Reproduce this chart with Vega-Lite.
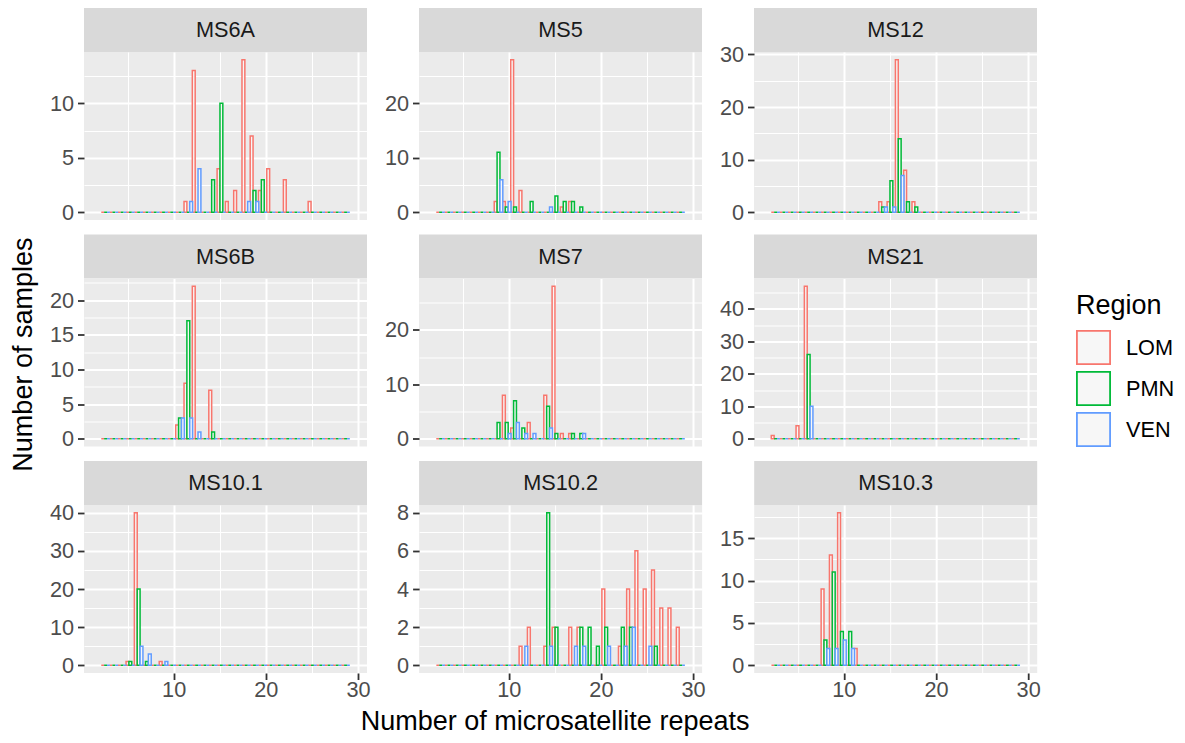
{
"$schema":"https://vega.github.io/schema/vega-lite/v6.json",
"background":"white",
"padding":{"left":9,"top":8,"right":5,"bottom":5},
"config":{"font":"Liberation Sans","view":{"stroke":null},
 "axis":{"domain":false,"gridColor":"#FFFFFF","labelFont":"Liberation Sans","labelFontSize":21.7,"labelColor":"#4D4D4D","tickColor":"#333333","tickSize":6.5,"tickWidth":1.8,"labelPadding":4},
 "axisX":{"minExtent":0,"labelPadding":0},
 "axisY":{"minExtent":40},
 "legend":{"orient":"none","legendX":992,"legendY":285,"titleFont":"Liberation Sans","titleFontSize":27,"titleFontWeight":"normal","titleColor":"black","labelFont":"Liberation Sans","labelFontSize":21.7,"labelColor":"black","symbolType":"square","symbolSize":1100,"symbolStrokeWidth":1.8,"symbolFillColor":"#F7F7F7","rowPadding":0,"titlePadding":10,"labelOffset":15}},
"datasets":{
"MS6A":[{"x":2.61,"LOM":0,"PMN":0,"VEN":0},{"x":3.51,"LOM":0,"PMN":0,"VEN":0},{"x":4.41,"LOM":0,"PMN":0,"VEN":0},{"x":5.3,"LOM":0,"PMN":0,"VEN":0},{"x":6.2,"LOM":0,"PMN":0,"VEN":0},{"x":7.1,"LOM":0,"PMN":0,"VEN":0},{"x":8,"LOM":0,"PMN":0,"VEN":0},{"x":8.9,"LOM":0,"PMN":0,"VEN":0},{"x":9.79,"LOM":0,"PMN":0,"VEN":0},{"x":10.69,"LOM":0,"PMN":0,"VEN":0},{"x":11.59,"LOM":1,"PMN":0,"VEN":1},{"x":12.49,"LOM":13,"PMN":0,"VEN":4},{"x":13.39,"LOM":0,"PMN":0,"VEN":0},{"x":14.28,"LOM":0,"PMN":3,"VEN":0},{"x":15.18,"LOM":4,"PMN":10,"VEN":0},{"x":16.08,"LOM":1,"PMN":0,"VEN":0},{"x":16.98,"LOM":2,"PMN":0,"VEN":0},{"x":17.88,"LOM":14,"PMN":0,"VEN":1},{"x":18.77,"LOM":7,"PMN":2,"VEN":1},{"x":19.67,"LOM":2,"PMN":3,"VEN":0},{"x":20.57,"LOM":4,"PMN":0,"VEN":0},{"x":21.47,"LOM":0,"PMN":0,"VEN":0},{"x":22.37,"LOM":3,"PMN":0,"VEN":0},{"x":23.26,"LOM":0,"PMN":0,"VEN":0},{"x":24.16,"LOM":0,"PMN":0,"VEN":0},{"x":25.06,"LOM":1,"PMN":0,"VEN":0},{"x":25.96,"LOM":0,"PMN":0,"VEN":0},{"x":26.86,"LOM":0,"PMN":0,"VEN":0},{"x":27.75,"LOM":0,"PMN":0,"VEN":0},{"x":28.65,"LOM":0,"PMN":0,"VEN":0}],
"MS5":[{"x":2.61,"LOM":0,"PMN":0,"VEN":0},{"x":3.51,"LOM":0,"PMN":0,"VEN":0},{"x":4.41,"LOM":0,"PMN":0,"VEN":0},{"x":5.3,"LOM":0,"PMN":0,"VEN":0},{"x":6.2,"LOM":0,"PMN":0,"VEN":0},{"x":7.1,"LOM":0,"PMN":0,"VEN":0},{"x":8,"LOM":0,"PMN":0,"VEN":0},{"x":8.9,"LOM":2,"PMN":11,"VEN":6},{"x":9.79,"LOM":2,"PMN":1,"VEN":2},{"x":10.69,"LOM":28,"PMN":1,"VEN":0},{"x":11.59,"LOM":4,"PMN":0,"VEN":0},{"x":12.49,"LOM":0,"PMN":2,"VEN":0},{"x":13.39,"LOM":0,"PMN":0,"VEN":0},{"x":14.28,"LOM":0,"PMN":0,"VEN":1},{"x":15.18,"LOM":0,"PMN":3,"VEN":0},{"x":16.08,"LOM":1,"PMN":2,"VEN":0},{"x":16.98,"LOM":2,"PMN":2,"VEN":0},{"x":17.88,"LOM":0,"PMN":1,"VEN":0},{"x":18.77,"LOM":0,"PMN":0,"VEN":0},{"x":19.67,"LOM":0,"PMN":0,"VEN":0},{"x":20.57,"LOM":0,"PMN":0,"VEN":0},{"x":21.47,"LOM":0,"PMN":0,"VEN":0},{"x":22.37,"LOM":0,"PMN":0,"VEN":0},{"x":23.26,"LOM":0,"PMN":0,"VEN":0},{"x":24.16,"LOM":0,"PMN":0,"VEN":0},{"x":25.06,"LOM":0,"PMN":0,"VEN":0},{"x":25.96,"LOM":0,"PMN":0,"VEN":0},{"x":26.86,"LOM":0,"PMN":0,"VEN":0},{"x":27.75,"LOM":0,"PMN":0,"VEN":0},{"x":28.65,"LOM":0,"PMN":0,"VEN":0}],
"MS12":[{"x":2.61,"LOM":0,"PMN":0,"VEN":0},{"x":3.51,"LOM":0,"PMN":0,"VEN":0},{"x":4.41,"LOM":0,"PMN":0,"VEN":0},{"x":5.3,"LOM":0,"PMN":0,"VEN":0},{"x":6.2,"LOM":0,"PMN":0,"VEN":0},{"x":7.1,"LOM":0,"PMN":0,"VEN":0},{"x":8,"LOM":0,"PMN":0,"VEN":0},{"x":8.9,"LOM":0,"PMN":0,"VEN":0},{"x":9.79,"LOM":0,"PMN":0,"VEN":0},{"x":10.69,"LOM":0,"PMN":0,"VEN":0},{"x":11.59,"LOM":0,"PMN":0,"VEN":0},{"x":12.49,"LOM":0,"PMN":0,"VEN":0},{"x":13.39,"LOM":0,"PMN":0,"VEN":0},{"x":14.28,"LOM":2,"PMN":1,"VEN":1},{"x":15.18,"LOM":2,"PMN":6,"VEN":1},{"x":16.08,"LOM":29,"PMN":14,"VEN":7},{"x":16.98,"LOM":8,"PMN":2,"VEN":0},{"x":17.88,"LOM":2,"PMN":1,"VEN":0},{"x":18.77,"LOM":0,"PMN":0,"VEN":0},{"x":19.67,"LOM":0,"PMN":0,"VEN":0},{"x":20.57,"LOM":0,"PMN":0,"VEN":0},{"x":21.47,"LOM":0,"PMN":0,"VEN":0},{"x":22.37,"LOM":0,"PMN":0,"VEN":0},{"x":23.26,"LOM":0,"PMN":0,"VEN":0},{"x":24.16,"LOM":0,"PMN":0,"VEN":0},{"x":25.06,"LOM":0,"PMN":0,"VEN":0},{"x":25.96,"LOM":0,"PMN":0,"VEN":0},{"x":26.86,"LOM":0,"PMN":0,"VEN":0},{"x":27.75,"LOM":0,"PMN":0,"VEN":0},{"x":28.65,"LOM":0,"PMN":0,"VEN":0}],
"MS6B":[{"x":2.61,"LOM":0,"PMN":0,"VEN":0},{"x":3.51,"LOM":0,"PMN":0,"VEN":0},{"x":4.41,"LOM":0,"PMN":0,"VEN":0},{"x":5.3,"LOM":0,"PMN":0,"VEN":0},{"x":6.2,"LOM":0,"PMN":0,"VEN":0},{"x":7.1,"LOM":0,"PMN":0,"VEN":0},{"x":8,"LOM":0,"PMN":0,"VEN":0},{"x":8.9,"LOM":0,"PMN":0,"VEN":0},{"x":9.79,"LOM":0,"PMN":0,"VEN":0},{"x":10.69,"LOM":2,"PMN":3,"VEN":3},{"x":11.59,"LOM":8,"PMN":17,"VEN":3},{"x":12.49,"LOM":22,"PMN":0,"VEN":1},{"x":13.39,"LOM":0,"PMN":0,"VEN":0},{"x":14.28,"LOM":7,"PMN":1,"VEN":0},{"x":15.18,"LOM":0,"PMN":0,"VEN":0},{"x":16.08,"LOM":0,"PMN":0,"VEN":0},{"x":16.98,"LOM":0,"PMN":0,"VEN":0},{"x":17.88,"LOM":0,"PMN":0,"VEN":0},{"x":18.77,"LOM":0,"PMN":0,"VEN":0},{"x":19.67,"LOM":0,"PMN":0,"VEN":0},{"x":20.57,"LOM":0,"PMN":0,"VEN":0},{"x":21.47,"LOM":0,"PMN":0,"VEN":0},{"x":22.37,"LOM":0,"PMN":0,"VEN":0},{"x":23.26,"LOM":0,"PMN":0,"VEN":0},{"x":24.16,"LOM":0,"PMN":0,"VEN":0},{"x":25.06,"LOM":0,"PMN":0,"VEN":0},{"x":25.96,"LOM":0,"PMN":0,"VEN":0},{"x":26.86,"LOM":0,"PMN":0,"VEN":0},{"x":27.75,"LOM":0,"PMN":0,"VEN":0},{"x":28.65,"LOM":0,"PMN":0,"VEN":0}],
"MS7":[{"x":2.61,"LOM":0,"PMN":0,"VEN":0},{"x":3.51,"LOM":0,"PMN":0,"VEN":0},{"x":4.41,"LOM":0,"PMN":0,"VEN":0},{"x":5.3,"LOM":0,"PMN":0,"VEN":0},{"x":6.2,"LOM":0,"PMN":0,"VEN":0},{"x":7.1,"LOM":0,"PMN":0,"VEN":0},{"x":8,"LOM":0,"PMN":0,"VEN":0},{"x":8.9,"LOM":0,"PMN":3,"VEN":0},{"x":9.79,"LOM":8,"PMN":3,"VEN":1},{"x":10.69,"LOM":2,"PMN":7,"VEN":3},{"x":11.59,"LOM":0,"PMN":2,"VEN":1},{"x":12.49,"LOM":3,"PMN":0,"VEN":1},{"x":13.39,"LOM":0,"PMN":0,"VEN":0},{"x":14.28,"LOM":8,"PMN":6,"VEN":2},{"x":15.18,"LOM":28,"PMN":1,"VEN":0},{"x":16.08,"LOM":1,"PMN":0,"VEN":0},{"x":16.98,"LOM":1,"PMN":1,"VEN":0},{"x":17.88,"LOM":0,"PMN":1,"VEN":1},{"x":18.77,"LOM":0,"PMN":0,"VEN":0},{"x":19.67,"LOM":0,"PMN":0,"VEN":0},{"x":20.57,"LOM":0,"PMN":0,"VEN":0},{"x":21.47,"LOM":0,"PMN":0,"VEN":0},{"x":22.37,"LOM":0,"PMN":0,"VEN":0},{"x":23.26,"LOM":0,"PMN":0,"VEN":0},{"x":24.16,"LOM":0,"PMN":0,"VEN":0},{"x":25.06,"LOM":0,"PMN":0,"VEN":0},{"x":25.96,"LOM":0,"PMN":0,"VEN":0},{"x":26.86,"LOM":0,"PMN":0,"VEN":0},{"x":27.75,"LOM":0,"PMN":0,"VEN":0},{"x":28.65,"LOM":0,"PMN":0,"VEN":0}],
"MS21":[{"x":2.61,"LOM":1,"PMN":0,"VEN":0},{"x":3.51,"LOM":0,"PMN":0,"VEN":0},{"x":4.41,"LOM":0,"PMN":0,"VEN":0},{"x":5.3,"LOM":4,"PMN":0,"VEN":0},{"x":6.2,"LOM":47,"PMN":26,"VEN":10},{"x":7.1,"LOM":0,"PMN":0,"VEN":0},{"x":8,"LOM":0,"PMN":0,"VEN":0},{"x":8.9,"LOM":0,"PMN":0,"VEN":0},{"x":9.79,"LOM":0,"PMN":0,"VEN":0},{"x":10.69,"LOM":0,"PMN":0,"VEN":0},{"x":11.59,"LOM":0,"PMN":0,"VEN":0},{"x":12.49,"LOM":0,"PMN":0,"VEN":0},{"x":13.39,"LOM":0,"PMN":0,"VEN":0},{"x":14.28,"LOM":0,"PMN":0,"VEN":0},{"x":15.18,"LOM":0,"PMN":0,"VEN":0},{"x":16.08,"LOM":0,"PMN":0,"VEN":0},{"x":16.98,"LOM":0,"PMN":0,"VEN":0},{"x":17.88,"LOM":0,"PMN":0,"VEN":0},{"x":18.77,"LOM":0,"PMN":0,"VEN":0},{"x":19.67,"LOM":0,"PMN":0,"VEN":0},{"x":20.57,"LOM":0,"PMN":0,"VEN":0},{"x":21.47,"LOM":0,"PMN":0,"VEN":0},{"x":22.37,"LOM":0,"PMN":0,"VEN":0},{"x":23.26,"LOM":0,"PMN":0,"VEN":0},{"x":24.16,"LOM":0,"PMN":0,"VEN":0},{"x":25.06,"LOM":0,"PMN":0,"VEN":0},{"x":25.96,"LOM":0,"PMN":0,"VEN":0},{"x":26.86,"LOM":0,"PMN":0,"VEN":0},{"x":27.75,"LOM":0,"PMN":0,"VEN":0},{"x":28.65,"LOM":0,"PMN":0,"VEN":0}],
"MS10_1":[{"x":2.61,"LOM":0,"PMN":0,"VEN":0},{"x":3.51,"LOM":0,"PMN":0,"VEN":0},{"x":4.41,"LOM":0,"PMN":0,"VEN":0},{"x":5.3,"LOM":1,"PMN":1,"VEN":0},{"x":6.2,"LOM":40,"PMN":20,"VEN":5},{"x":7.1,"LOM":0,"PMN":1,"VEN":3},{"x":8,"LOM":0,"PMN":0,"VEN":0},{"x":8.9,"LOM":1,"PMN":0,"VEN":1},{"x":9.79,"LOM":0,"PMN":0,"VEN":0},{"x":10.69,"LOM":0,"PMN":0,"VEN":0},{"x":11.59,"LOM":0,"PMN":0,"VEN":0},{"x":12.49,"LOM":0,"PMN":0,"VEN":0},{"x":13.39,"LOM":0,"PMN":0,"VEN":0},{"x":14.28,"LOM":0,"PMN":0,"VEN":0},{"x":15.18,"LOM":0,"PMN":0,"VEN":0},{"x":16.08,"LOM":0,"PMN":0,"VEN":0},{"x":16.98,"LOM":0,"PMN":0,"VEN":0},{"x":17.88,"LOM":0,"PMN":0,"VEN":0},{"x":18.77,"LOM":0,"PMN":0,"VEN":0},{"x":19.67,"LOM":0,"PMN":0,"VEN":0},{"x":20.57,"LOM":0,"PMN":0,"VEN":0},{"x":21.47,"LOM":0,"PMN":0,"VEN":0},{"x":22.37,"LOM":0,"PMN":0,"VEN":0},{"x":23.26,"LOM":0,"PMN":0,"VEN":0},{"x":24.16,"LOM":0,"PMN":0,"VEN":0},{"x":25.06,"LOM":0,"PMN":0,"VEN":0},{"x":25.96,"LOM":0,"PMN":0,"VEN":0},{"x":26.86,"LOM":0,"PMN":0,"VEN":0},{"x":27.75,"LOM":0,"PMN":0,"VEN":0},{"x":28.65,"LOM":0,"PMN":0,"VEN":0}],
"MS10_2":[{"x":2.61,"LOM":0,"PMN":0,"VEN":0},{"x":3.51,"LOM":0,"PMN":0,"VEN":0},{"x":4.41,"LOM":0,"PMN":0,"VEN":0},{"x":5.3,"LOM":0,"PMN":0,"VEN":0},{"x":6.2,"LOM":0,"PMN":0,"VEN":0},{"x":7.1,"LOM":0,"PMN":0,"VEN":0},{"x":8,"LOM":0,"PMN":0,"VEN":0},{"x":8.9,"LOM":0,"PMN":0,"VEN":0},{"x":9.79,"LOM":0,"PMN":0,"VEN":0},{"x":10.69,"LOM":0,"PMN":0,"VEN":0},{"x":11.59,"LOM":1,"PMN":0,"VEN":1},{"x":12.49,"LOM":2,"PMN":0,"VEN":0},{"x":13.39,"LOM":0,"PMN":0,"VEN":0},{"x":14.28,"LOM":1,"PMN":8,"VEN":1},{"x":15.18,"LOM":2,"PMN":2,"VEN":0},{"x":16.08,"LOM":0,"PMN":0,"VEN":0},{"x":16.98,"LOM":2,"PMN":0,"VEN":1},{"x":17.88,"LOM":2,"PMN":2,"VEN":1},{"x":18.77,"LOM":0,"PMN":2,"VEN":0},{"x":19.67,"LOM":0,"PMN":1,"VEN":0},{"x":20.57,"LOM":4,"PMN":2,"VEN":1},{"x":21.47,"LOM":0,"PMN":0,"VEN":0},{"x":22.37,"LOM":1,"PMN":2,"VEN":1},{"x":23.26,"LOM":4,"PMN":2,"VEN":2},{"x":24.16,"LOM":6,"PMN":0,"VEN":0},{"x":25.06,"LOM":4,"PMN":0,"VEN":1},{"x":25.96,"LOM":5,"PMN":1,"VEN":0},{"x":26.86,"LOM":3,"PMN":0,"VEN":0},{"x":27.75,"LOM":3,"PMN":0,"VEN":0},{"x":28.65,"LOM":2,"PMN":0,"VEN":0}],
"MS10_3":[{"x":2.61,"LOM":0,"PMN":0,"VEN":0},{"x":3.51,"LOM":0,"PMN":0,"VEN":0},{"x":4.41,"LOM":0,"PMN":0,"VEN":0},{"x":5.3,"LOM":0,"PMN":0,"VEN":0},{"x":6.2,"LOM":0,"PMN":0,"VEN":0},{"x":7.1,"LOM":0,"PMN":0,"VEN":0},{"x":8,"LOM":9,"PMN":3,"VEN":2},{"x":8.9,"LOM":13,"PMN":11,"VEN":2},{"x":9.79,"LOM":18,"PMN":4,"VEN":3},{"x":10.69,"LOM":0,"PMN":4,"VEN":2},{"x":11.59,"LOM":2,"PMN":0,"VEN":0},{"x":12.49,"LOM":0,"PMN":0,"VEN":0},{"x":13.39,"LOM":0,"PMN":0,"VEN":0},{"x":14.28,"LOM":0,"PMN":0,"VEN":0},{"x":15.18,"LOM":0,"PMN":0,"VEN":0},{"x":16.08,"LOM":0,"PMN":0,"VEN":0},{"x":16.98,"LOM":0,"PMN":0,"VEN":0},{"x":17.88,"LOM":0,"PMN":0,"VEN":0},{"x":18.77,"LOM":0,"PMN":0,"VEN":0},{"x":19.67,"LOM":0,"PMN":0,"VEN":0},{"x":20.57,"LOM":0,"PMN":0,"VEN":0},{"x":21.47,"LOM":0,"PMN":0,"VEN":0},{"x":22.37,"LOM":0,"PMN":0,"VEN":0},{"x":23.26,"LOM":0,"PMN":0,"VEN":0},{"x":24.16,"LOM":0,"PMN":0,"VEN":0},{"x":25.06,"LOM":0,"PMN":0,"VEN":0},{"x":25.96,"LOM":0,"PMN":0,"VEN":0},{"x":26.86,"LOM":0,"PMN":0,"VEN":0},{"x":27.75,"LOM":0,"PMN":0,"VEN":0},{"x":28.65,"LOM":0,"PMN":0,"VEN":0}]
},
"vconcat":[{
"title":{"text":"Number of microsatellite repeats","orient":"bottom","anchor":"middle","frame":"bounds","dx":30,"fontSize":27,"fontWeight":"normal","color":"black","font":"Liberation Sans","offset":8},
"vconcat":[{
"title":{"text":"Number of samples","orient":"left","anchor":"middle","fontSize":27,"fontWeight":"normal","color":"black","font":"Liberation Sans","offset":6},
"spacing":9.5,
"vconcat":[
{"hconcat":[
{"bounds":"flush","spacing":0,"vconcat":[
 {"width":283,"height":44,"view":{"fill":"#D9D9D9","stroke":null},"data":{"values":[{}]},"mark":{"type":"text","fontSize":21.7,"color":"#1A1A1A"},"encoding":{"text":{"value":"MS6A"}}},
 {"width":283,"height":168,"view":{"fill":"#EBEBEB","stroke":null},"data":{"name":"MS6A"},"transform":[{"fold":["LOM","PMN","VEN"],"as":["Region","count"]}],"resolve":{"axis":{"x":"independent","y":"independent"}},
 "layer":[
  {"transform":[{"filter":"datum.Region==='LOM'"}],"mark":{"type":"bar","width":2.86,"xOffset":-2.86,"fill":"#F7F7F7","strokeWidth":1.5},"encoding":{"x":{"field":"x","type":"quantitative","scale":{"domain":[0.8135,30.4365],"nice":false,"zero":false},"axis":{"values":[10,20,30],"grid":true,"gridWidth":2,"labels":false,"ticks":false,"title":null}},"y":{"field":"count","type":"quantitative","scale":{"domain":[-0.7,14.7],"nice":false,"zero":false},"axis":{"values":[0,5,10],"grid":true,"gridWidth":2,"title":null}},"y2":{"datum":0},"stroke":{"field":"Region","type":"nominal","scale":{"domain":["LOM","PMN","VEN"],"range":["#F8766D","#00BA38","#619CFF"]}}}},
  {"transform":[{"filter":"datum.Region==='PMN'"}],"mark":{"type":"bar","width":2.86,"fill":"#F7F7F7","strokeWidth":1.5},"encoding":{"x":{"field":"x","type":"quantitative","axis":{"values":[5,15,25],"grid":true,"gridWidth":1,"labels":false,"ticks":false,"title":null}},"y":{"field":"count","type":"quantitative","axis":{"values":[2.5,7.5,12.5],"grid":true,"gridWidth":1,"labels":false,"ticks":false,"title":null,"minExtent":0}},"y2":{"datum":0},"stroke":{"field":"Region","type":"nominal"}}},
  {"transform":[{"filter":"datum.Region==='VEN'"}],"mark":{"type":"bar","width":2.86,"xOffset":2.86,"fill":"#F7F7F7","strokeWidth":1.5},"encoding":{"x":{"field":"x","type":"quantitative","axis":null},"y":{"field":"count","type":"quantitative","axis":null},"y2":{"datum":0},"stroke":{"field":"Region","type":"nominal"}}}
 ]}
]},
{"bounds":"flush","spacing":0,"vconcat":[
 {"width":283,"height":44,"view":{"fill":"#D9D9D9","stroke":null},"data":{"values":[{}]},"mark":{"type":"text","fontSize":21.7,"color":"#1A1A1A"},"encoding":{"text":{"value":"MS5"}}},
 {"width":283,"height":168,"view":{"fill":"#EBEBEB","stroke":null},"data":{"name":"MS5"},"transform":[{"fold":["LOM","PMN","VEN"],"as":["Region","count"]}],"resolve":{"axis":{"x":"independent","y":"independent"}},
 "layer":[
  {"transform":[{"filter":"datum.Region==='LOM'"}],"mark":{"type":"bar","width":2.86,"xOffset":-2.86,"fill":"#F7F7F7","strokeWidth":1.5},"encoding":{"x":{"field":"x","type":"quantitative","scale":{"domain":[0.8135,30.4365],"nice":false,"zero":false},"axis":{"values":[10,20,30],"grid":true,"gridWidth":2,"labels":false,"ticks":false,"title":null}},"y":{"field":"count","type":"quantitative","scale":{"domain":[-1.4,29.4],"nice":false,"zero":false},"axis":{"values":[0,10,20],"grid":true,"gridWidth":2,"title":null}},"y2":{"datum":0},"stroke":{"field":"Region","type":"nominal"}}},
  {"transform":[{"filter":"datum.Region==='PMN'"}],"mark":{"type":"bar","width":2.86,"fill":"#F7F7F7","strokeWidth":1.5},"encoding":{"x":{"field":"x","type":"quantitative","axis":{"values":[5,15,25],"grid":true,"gridWidth":1,"labels":false,"ticks":false,"title":null}},"y":{"field":"count","type":"quantitative","axis":{"values":[5,15,25],"grid":true,"gridWidth":1,"labels":false,"ticks":false,"title":null,"minExtent":0}},"y2":{"datum":0},"stroke":{"field":"Region","type":"nominal"}}},
  {"transform":[{"filter":"datum.Region==='VEN'"}],"mark":{"type":"bar","width":2.86,"xOffset":2.86,"fill":"#F7F7F7","strokeWidth":1.5},"encoding":{"x":{"field":"x","type":"quantitative","axis":null},"y":{"field":"count","type":"quantitative","axis":null},"y2":{"datum":0},"stroke":{"field":"Region","type":"nominal"}}}
 ]}
]},
{"bounds":"flush","spacing":0,"vconcat":[
 {"width":283,"height":44,"view":{"fill":"#D9D9D9","stroke":null},"data":{"values":[{}]},"mark":{"type":"text","fontSize":21.7,"color":"#1A1A1A"},"encoding":{"text":{"value":"MS12"}}},
 {"width":283,"height":168,"view":{"fill":"#EBEBEB","stroke":null},"data":{"name":"MS12"},"transform":[{"fold":["LOM","PMN","VEN"],"as":["Region","count"]}],"resolve":{"axis":{"x":"independent","y":"independent"}},
 "layer":[
  {"transform":[{"filter":"datum.Region==='LOM'"}],"mark":{"type":"bar","width":2.86,"xOffset":-2.86,"fill":"#F7F7F7","strokeWidth":1.5},"encoding":{"x":{"field":"x","type":"quantitative","scale":{"domain":[0.8135,30.4365],"nice":false,"zero":false},"axis":{"values":[10,20,30],"grid":true,"gridWidth":2,"labels":false,"ticks":false,"title":null}},"y":{"field":"count","type":"quantitative","scale":{"domain":[-1.45,30.45],"nice":false,"zero":false},"axis":{"values":[0,10,20,30],"grid":true,"gridWidth":2,"title":null}},"y2":{"datum":0},"stroke":{"field":"Region","type":"nominal"}}},
  {"transform":[{"filter":"datum.Region==='PMN'"}],"mark":{"type":"bar","width":2.86,"fill":"#F7F7F7","strokeWidth":1.5},"encoding":{"x":{"field":"x","type":"quantitative","axis":{"values":[5,15,25],"grid":true,"gridWidth":1,"labels":false,"ticks":false,"title":null}},"y":{"field":"count","type":"quantitative","axis":{"values":[5,15,25],"grid":true,"gridWidth":1,"labels":false,"ticks":false,"title":null,"minExtent":0}},"y2":{"datum":0},"stroke":{"field":"Region","type":"nominal"}}},
  {"transform":[{"filter":"datum.Region==='VEN'"}],"mark":{"type":"bar","width":2.86,"xOffset":2.86,"fill":"#F7F7F7","strokeWidth":1.5},"encoding":{"x":{"field":"x","type":"quantitative","axis":null},"y":{"field":"count","type":"quantitative","axis":null},"y2":{"datum":0},"stroke":{"field":"Region","type":"nominal"}}}
 ]}
]}
],"spacing":12},
{"hconcat":[
{"bounds":"flush","spacing":0,"vconcat":[
 {"width":283,"height":44,"view":{"fill":"#D9D9D9","stroke":null},"data":{"values":[{}]},"mark":{"type":"text","fontSize":21.7,"color":"#1A1A1A"},"encoding":{"text":{"value":"MS6B"}}},
 {"width":283,"height":168,"view":{"fill":"#EBEBEB","stroke":null},"data":{"name":"MS6B"},"transform":[{"fold":["LOM","PMN","VEN"],"as":["Region","count"]}],"resolve":{"axis":{"x":"independent","y":"independent"}},
 "layer":[
  {"transform":[{"filter":"datum.Region==='LOM'"}],"mark":{"type":"bar","width":2.86,"xOffset":-2.86,"fill":"#F7F7F7","strokeWidth":1.5},"encoding":{"x":{"field":"x","type":"quantitative","scale":{"domain":[0.8135,30.4365],"nice":false,"zero":false},"axis":{"values":[10,20,30],"grid":true,"gridWidth":2,"labels":false,"ticks":false,"title":null}},"y":{"field":"count","type":"quantitative","scale":{"domain":[-1.1,23.1],"nice":false,"zero":false},"axis":{"values":[0,5,10,15,20],"grid":true,"gridWidth":2,"title":null}},"y2":{"datum":0},"stroke":{"field":"Region","type":"nominal"}}},
  {"transform":[{"filter":"datum.Region==='PMN'"}],"mark":{"type":"bar","width":2.86,"fill":"#F7F7F7","strokeWidth":1.5},"encoding":{"x":{"field":"x","type":"quantitative","axis":{"values":[5,15,25],"grid":true,"gridWidth":1,"labels":false,"ticks":false,"title":null}},"y":{"field":"count","type":"quantitative","axis":{"values":[2.5,7.5,12.5,17.5,22.5],"grid":true,"gridWidth":1,"labels":false,"ticks":false,"title":null,"minExtent":0}},"y2":{"datum":0},"stroke":{"field":"Region","type":"nominal"}}},
  {"transform":[{"filter":"datum.Region==='VEN'"}],"mark":{"type":"bar","width":2.86,"xOffset":2.86,"fill":"#F7F7F7","strokeWidth":1.5},"encoding":{"x":{"field":"x","type":"quantitative","axis":null},"y":{"field":"count","type":"quantitative","axis":null},"y2":{"datum":0},"stroke":{"field":"Region","type":"nominal"}}}
 ]}
]},
{"bounds":"flush","spacing":0,"vconcat":[
 {"width":283,"height":44,"view":{"fill":"#D9D9D9","stroke":null},"data":{"values":[{}]},"mark":{"type":"text","fontSize":21.7,"color":"#1A1A1A"},"encoding":{"text":{"value":"MS7"}}},
 {"width":283,"height":168,"view":{"fill":"#EBEBEB","stroke":null},"data":{"name":"MS7"},"transform":[{"fold":["LOM","PMN","VEN"],"as":["Region","count"]}],"resolve":{"axis":{"x":"independent","y":"independent"}},
 "layer":[
  {"transform":[{"filter":"datum.Region==='LOM'"}],"mark":{"type":"bar","width":2.86,"xOffset":-2.86,"fill":"#F7F7F7","strokeWidth":1.5},"encoding":{"x":{"field":"x","type":"quantitative","scale":{"domain":[0.8135,30.4365],"nice":false,"zero":false},"axis":{"values":[10,20,30],"grid":true,"gridWidth":2,"labels":false,"ticks":false,"title":null}},"y":{"field":"count","type":"quantitative","scale":{"domain":[-1.4,29.4],"nice":false,"zero":false},"axis":{"values":[0,10,20],"grid":true,"gridWidth":2,"title":null}},"y2":{"datum":0},"stroke":{"field":"Region","type":"nominal"}}},
  {"transform":[{"filter":"datum.Region==='PMN'"}],"mark":{"type":"bar","width":2.86,"fill":"#F7F7F7","strokeWidth":1.5},"encoding":{"x":{"field":"x","type":"quantitative","axis":{"values":[5,15,25],"grid":true,"gridWidth":1,"labels":false,"ticks":false,"title":null}},"y":{"field":"count","type":"quantitative","axis":{"values":[5,15,25],"grid":true,"gridWidth":1,"labels":false,"ticks":false,"title":null,"minExtent":0}},"y2":{"datum":0},"stroke":{"field":"Region","type":"nominal"}}},
  {"transform":[{"filter":"datum.Region==='VEN'"}],"mark":{"type":"bar","width":2.86,"xOffset":2.86,"fill":"#F7F7F7","strokeWidth":1.5},"encoding":{"x":{"field":"x","type":"quantitative","axis":null},"y":{"field":"count","type":"quantitative","axis":null},"y2":{"datum":0},"stroke":{"field":"Region","type":"nominal"}}}
 ]}
]},
{"bounds":"flush","spacing":0,"vconcat":[
 {"width":283,"height":44,"view":{"fill":"#D9D9D9","stroke":null},"data":{"values":[{}]},"mark":{"type":"text","fontSize":21.7,"color":"#1A1A1A"},"encoding":{"text":{"value":"MS21"}}},
 {"width":283,"height":168,"view":{"fill":"#EBEBEB","stroke":null},"data":{"name":"MS21"},"transform":[{"fold":["LOM","PMN","VEN"],"as":["Region","count"]}],"resolve":{"axis":{"x":"independent","y":"independent"}},
 "layer":[
  {"transform":[{"filter":"datum.Region==='LOM'"}],"mark":{"type":"bar","width":2.86,"xOffset":-2.86,"fill":"#F7F7F7","strokeWidth":1.5},"encoding":{"x":{"field":"x","type":"quantitative","scale":{"domain":[0.8135,30.4365],"nice":false,"zero":false},"axis":{"values":[10,20,30],"grid":true,"gridWidth":2,"labels":false,"ticks":false,"title":null}},"y":{"field":"count","type":"quantitative","scale":{"domain":[-2.35,49.35],"nice":false,"zero":false},"axis":{"values":[0,10,20,30,40],"grid":true,"gridWidth":2,"title":null}},"y2":{"datum":0},"stroke":{"field":"Region","type":"nominal"}}},
  {"transform":[{"filter":"datum.Region==='PMN'"}],"mark":{"type":"bar","width":2.86,"fill":"#F7F7F7","strokeWidth":1.5},"encoding":{"x":{"field":"x","type":"quantitative","axis":{"values":[5,15,25],"grid":true,"gridWidth":1,"labels":false,"ticks":false,"title":null}},"y":{"field":"count","type":"quantitative","axis":{"values":[5,15,25,35,45],"grid":true,"gridWidth":1,"labels":false,"ticks":false,"title":null,"minExtent":0}},"y2":{"datum":0},"stroke":{"field":"Region","type":"nominal"}}},
  {"transform":[{"filter":"datum.Region==='VEN'"}],"mark":{"type":"bar","width":2.86,"xOffset":2.86,"fill":"#F7F7F7","strokeWidth":1.5},"encoding":{"x":{"field":"x","type":"quantitative","axis":null},"y":{"field":"count","type":"quantitative","axis":null},"y2":{"datum":0},"stroke":{"field":"Region","type":"nominal"}}}
 ]}
]}
],"spacing":12},
{"hconcat":[
{"bounds":"flush","spacing":0,"vconcat":[
 {"width":283,"height":44,"view":{"fill":"#D9D9D9","stroke":null},"data":{"values":[{}]},"mark":{"type":"text","fontSize":21.7,"color":"#1A1A1A"},"encoding":{"text":{"value":"MS10.1"}}},
 {"width":283,"height":168,"view":{"fill":"#EBEBEB","stroke":null},"data":{"name":"MS10_1"},"transform":[{"fold":["LOM","PMN","VEN"],"as":["Region","count"]}],"resolve":{"axis":{"x":"independent","y":"independent"}},
 "layer":[
  {"transform":[{"filter":"datum.Region==='LOM'"}],"mark":{"type":"bar","width":2.86,"xOffset":-2.86,"fill":"#F7F7F7","strokeWidth":1.5},"encoding":{"x":{"field":"x","type":"quantitative","scale":{"domain":[0.8135,30.4365],"nice":false,"zero":false},"axis":{"values":[10,20,30],"grid":true,"gridWidth":2,"title":null}},"y":{"field":"count","type":"quantitative","scale":{"domain":[-2,42],"nice":false,"zero":false},"axis":{"values":[0,10,20,30,40],"grid":true,"gridWidth":2,"title":null}},"y2":{"datum":0},"stroke":{"field":"Region","type":"nominal"}}},
  {"transform":[{"filter":"datum.Region==='PMN'"}],"mark":{"type":"bar","width":2.86,"fill":"#F7F7F7","strokeWidth":1.5},"encoding":{"x":{"field":"x","type":"quantitative","axis":{"values":[5,15,25],"grid":true,"gridWidth":1,"labels":false,"ticks":false,"title":null}},"y":{"field":"count","type":"quantitative","axis":{"values":[5,15,25,35],"grid":true,"gridWidth":1,"labels":false,"ticks":false,"title":null,"minExtent":0}},"y2":{"datum":0},"stroke":{"field":"Region","type":"nominal"}}},
  {"transform":[{"filter":"datum.Region==='VEN'"}],"mark":{"type":"bar","width":2.86,"xOffset":2.86,"fill":"#F7F7F7","strokeWidth":1.5},"encoding":{"x":{"field":"x","type":"quantitative","axis":null},"y":{"field":"count","type":"quantitative","axis":null},"y2":{"datum":0},"stroke":{"field":"Region","type":"nominal"}}}
 ]}
]},
{"bounds":"flush","spacing":0,"vconcat":[
 {"width":283,"height":44,"view":{"fill":"#D9D9D9","stroke":null},"data":{"values":[{}]},"mark":{"type":"text","fontSize":21.7,"color":"#1A1A1A"},"encoding":{"text":{"value":"MS10.2"}}},
 {"width":283,"height":168,"view":{"fill":"#EBEBEB","stroke":null},"data":{"name":"MS10_2"},"transform":[{"fold":["LOM","PMN","VEN"],"as":["Region","count"]}],"resolve":{"axis":{"x":"independent","y":"independent"}},
 "layer":[
  {"transform":[{"filter":"datum.Region==='LOM'"}],"mark":{"type":"bar","width":2.86,"xOffset":-2.86,"fill":"#F7F7F7","strokeWidth":1.5},"encoding":{"x":{"field":"x","type":"quantitative","scale":{"domain":[0.8135,30.4365],"nice":false,"zero":false},"axis":{"values":[10,20,30],"grid":true,"gridWidth":2,"title":null}},"y":{"field":"count","type":"quantitative","scale":{"domain":[-0.4,8.4],"nice":false,"zero":false},"axis":{"values":[0,2,4,6,8],"grid":true,"gridWidth":2,"title":null}},"y2":{"datum":0},"stroke":{"field":"Region","type":"nominal"}}},
  {"transform":[{"filter":"datum.Region==='PMN'"}],"mark":{"type":"bar","width":2.86,"fill":"#F7F7F7","strokeWidth":1.5},"encoding":{"x":{"field":"x","type":"quantitative","axis":{"values":[5,15,25],"grid":true,"gridWidth":1,"labels":false,"ticks":false,"title":null}},"y":{"field":"count","type":"quantitative","axis":{"values":[1,3,5,7],"grid":true,"gridWidth":1,"labels":false,"ticks":false,"title":null,"minExtent":0}},"y2":{"datum":0},"stroke":{"field":"Region","type":"nominal"}}},
  {"transform":[{"filter":"datum.Region==='VEN'"}],"mark":{"type":"bar","width":2.86,"xOffset":2.86,"fill":"#F7F7F7","strokeWidth":1.5},"encoding":{"x":{"field":"x","type":"quantitative","axis":null},"y":{"field":"count","type":"quantitative","axis":null},"y2":{"datum":0},"stroke":{"field":"Region","type":"nominal"}}}
 ]}
]},
{"bounds":"flush","spacing":0,"vconcat":[
 {"width":283,"height":44,"view":{"fill":"#D9D9D9","stroke":null},"data":{"values":[{}]},"mark":{"type":"text","fontSize":21.7,"color":"#1A1A1A"},"encoding":{"text":{"value":"MS10.3"}}},
 {"width":283,"height":168,"view":{"fill":"#EBEBEB","stroke":null},"data":{"name":"MS10_3"},"transform":[{"fold":["LOM","PMN","VEN"],"as":["Region","count"]}],"resolve":{"axis":{"x":"independent","y":"independent"}},
 "layer":[
  {"transform":[{"filter":"datum.Region==='LOM'"}],"mark":{"type":"bar","width":2.86,"xOffset":-2.86,"fill":"#F7F7F7","strokeWidth":1.5},"encoding":{"x":{"field":"x","type":"quantitative","scale":{"domain":[0.8135,30.4365],"nice":false,"zero":false},"axis":{"values":[10,20,30],"grid":true,"gridWidth":2,"title":null}},"y":{"field":"count","type":"quantitative","scale":{"domain":[-0.9,18.9],"nice":false,"zero":false},"axis":{"values":[0,5,10,15],"grid":true,"gridWidth":2,"title":null}},"y2":{"datum":0},"stroke":{"field":"Region","type":"nominal"}}},
  {"transform":[{"filter":"datum.Region==='PMN'"}],"mark":{"type":"bar","width":2.86,"fill":"#F7F7F7","strokeWidth":1.5},"encoding":{"x":{"field":"x","type":"quantitative","axis":{"values":[5,15,25],"grid":true,"gridWidth":1,"labels":false,"ticks":false,"title":null}},"y":{"field":"count","type":"quantitative","axis":{"values":[2.5,7.5,12.5,17.5],"grid":true,"gridWidth":1,"labels":false,"ticks":false,"title":null,"minExtent":0}},"y2":{"datum":0},"stroke":{"field":"Region","type":"nominal"}}},
  {"transform":[{"filter":"datum.Region==='VEN'"}],"mark":{"type":"bar","width":2.86,"xOffset":2.86,"fill":"#F7F7F7","strokeWidth":1.5},"encoding":{"x":{"field":"x","type":"quantitative","axis":null},"y":{"field":"count","type":"quantitative","axis":null},"y2":{"datum":0},"stroke":{"field":"Region","type":"nominal"}}}
 ]}
]}
],"spacing":8.1}
]}]}]
}
